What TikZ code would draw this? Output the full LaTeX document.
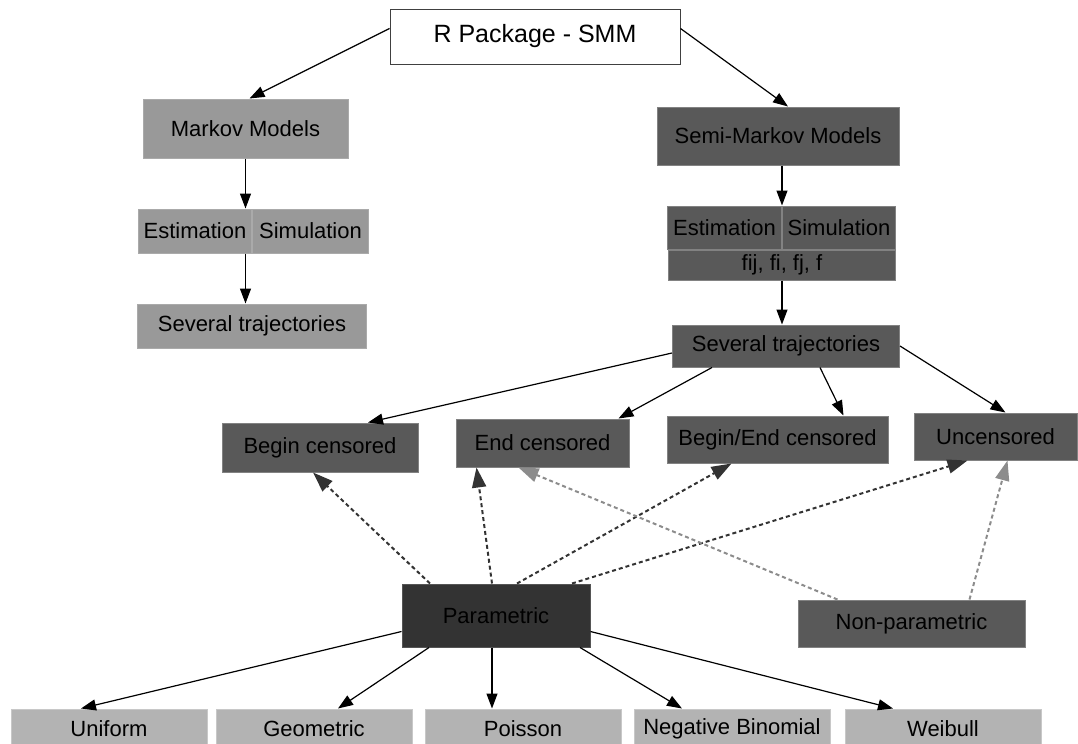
\documentclass[tikz,border=0pt]{standalone}
\usepackage{fontspec}
\setmainfont{Liberation Sans}
\usetikzlibrary{arrows.meta, positioning}
\definecolor{markovgray}{RGB}{153,153,153}
\definecolor{markovline}{RGB}{170,170,170}
\definecolor{semigray}{RGB}{89,89,89}
\definecolor{semiline}{RGB}{130,130,130}
\definecolor{paramgray}{RGB}{51,51,51}
\definecolor{paramline}{RGB}{85,85,85}
\definecolor{distgray}{RGB}{179,179,179}
\definecolor{distline}{RGB}{200,200,200}
\definecolor{nonparamline}{RGB}{140,140,140}

\begin{document}
\begin{tikzpicture}[x=0.5pt, y=-0.5pt,
        box/.style={draw, inner sep=0pt, line width=0.5pt, font=\fontsize{11}{13}\selectfont},
        rootbox/.style={box, draw=black!75, fill=white, font=\fontsize{12.5}{15}\selectfont},
        markovbox/.style={box, draw=markovline, fill=markovgray},
        semibox/.style={box, draw=semiline, fill=semigray},
        parambox/.style={box, draw=paramline, fill=paramgray},
        distbox/.style={box, draw=distline, fill=distgray, minimum width=98pt, minimum height=20pt},
        arr/.style={-{Triangle[length=7.5pt, width=5.5pt]}, line width=0.6pt},
        dasharr/.style={-{Triangle[length=10pt, width=7pt]}, line width=1pt, dash pattern=on 2pt off 1.5pt, color=paramgray},
        lightdasharr/.style={dasharr, color=nonparamline}]
        \useasboundingbox (0,0) rectangle (1078,744);

        % Top node
        \node[rootbox, minimum width=145pt, minimum height=27.5pt] (root) at (535,36.5) {R Package - SMM};

        % Markov branch
        \node[markovbox, minimum width=102.5pt, minimum height=29.5pt] (markov) at (245.5,128.5) {Markov Models};
        \node[markovbox, minimum width=56.5pt, minimum height=22pt, below left=25pt and -3.25pt of markov.south] (mestim) {Estimation};
        \node[markovbox, minimum width=58pt, minimum height=22pt, right=0pt of mestim] (msim) {Simulation};
        \node[markovbox, minimum width=114.5pt, minimum height=22pt, below=25pt of mestim.south east] (mtraj) {Several trajectories};

        % Semi-Markov branch
        \node[semibox, minimum width=121pt, minimum height=29pt] (semi) at (778,136) {Semi-Markov Models};
        \node[semibox, minimum width=57pt, minimum height=21.5pt, below left=20pt and -2pt of semi.south] (sestim) {Estimation};
        \node[semibox, minimum width=56.5pt, minimum height=21.5pt, right=0pt of sestim] (ssim) {Simulation};
        \node[semibox, minimum width=113.5pt, minimum height=15pt, below=0pt of sestim.south east] (sfun) {fij, fi, fj, f};
        \node[semibox, minimum width=113.5pt, minimum height=21pt, below=22pt of sfun, xshift=2pt] (straj) {Several trajectories};

        % Censoring types
        \node[semibox, minimum width=98pt, minimum height=24.5pt] (begin) at (320,447.5) {Begin censored};
        \node[semibox, minimum width=86.5pt, minimum height=24pt] (endc) at (542.5,443) {End censored};
        \node[semibox, minimum width=110.5pt, minimum height=23.5pt] (bothc) at (777.5,439.5) {Begin/End censored};
        \node[semibox, minimum width=81.5pt, minimum height=23.5pt] (uncens) at (995.5,436.5) {Uncensored};

        % Estimation methods
        \node[parambox, minimum width=94pt, minimum height=31.5pt] (param) at (496,615.5) {Parametric};
        \node[semibox, minimum width=113.5pt, minimum height=23.5pt] (nonparam) at (911.5,623.5) {Non-parametric};

        % Distributions
        \node[distbox] (uniform) at (109,729) {Uniform};
        \node[distbox, right=4pt of uniform] (geometric) {Geometric};
        \node[distbox, right=6pt of geometric] (poisson) {Poisson};
        \node[distbox, right=6pt of poisson] (negbin) {Negative Binomial};
        \node[distbox, right=7pt of negbin] (weibull) {Weibull};

        % Connections from the root
        \draw[arr] ([yshift=4pt]root.west) -- ([xshift=2pt]markov.north);
        \draw[arr] ([yshift=4pt]root.east) -- ([xshift=5pt]semi.north);

        % Connections within the Markov branch
        \draw[arr] (markov.south) -- (markov.south |- mestim.north);
        \draw[arr] (markov.south |- mestim.south) -- (markov.south |- mtraj.north);

        % Connections within the semi-Markov branch
        \draw[arr] (sestim.north east |- semi.south) -- (sestim.north east);
        \draw[arr] (sfun.south) -- (sfun.south |- straj.north);

        % Connections to the censoring types
        \draw[arr] ([yshift=-3.5pt]straj.west) -- ([xshift=24pt]begin.north);
        \draw[arr] ([xshift=-37pt]straj.south) -- ([xshift=38pt]endc.north);
        \draw[arr] ([xshift=17pt]straj.south) -- ([xshift=33pt]bothc.north);
        \draw[arr] (straj.east) -- ([xshift=5pt]uncens.north);

        % Dashed connections from the estimation methods
        \draw[dasharr] ([xshift=-33pt]param.north) -- ([xshift=-3.5pt]begin.south);
        \draw[dasharr] ([xshift=-2pt]param.north) -- ([xshift=-33pt]endc.south);
        \draw[dasharr] ([xshift=10.5pt]param.north) -- ([xshift=-23pt]bothc.south);
        \draw[dasharr] ([xshift=38pt]param.north) -- ([xshift=-14pt]uncens.south);
        \draw[lightdasharr] ([xshift=-37pt]nonparam.north) -- ([xshift=-12pt]endc.south);
        \draw[lightdasharr] ([xshift=29pt]nonparam.north) -- ([xshift=6pt]uncens.south);

        % Connections to the distributions
        \draw[arr] ([yshift=-8pt]param.west) -- ([xshift=-14pt]uniform.north);
        \draw[arr] ([xshift=-33.5pt]param.south) -- ([xshift=12pt]geometric.north);
        \draw[arr] ([xshift=-2pt]param.south) -- ([xshift=-2pt]param.south |- poisson.north);
        \draw[arr] ([xshift=42pt]param.south) -- ([xshift=-25pt]negbin.north);
        \draw[arr] ([yshift=-8pt]param.east) -- ([xshift=-25pt]weibull.north);
\end{tikzpicture}
\end{document}
